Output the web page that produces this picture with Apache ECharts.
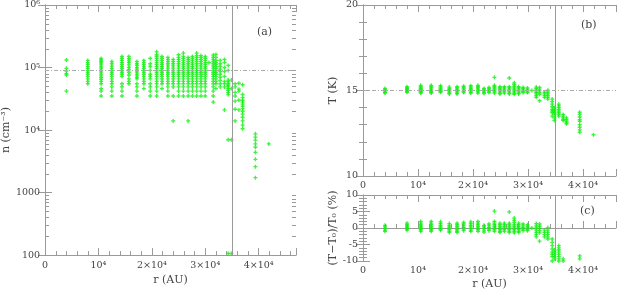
<!DOCTYPE html>
<html><head><meta charset="utf-8">
<script src="https://cdn.jsdelivr.net/npm/echarts@6/dist/echarts.min.js"></script>
<style>html,body{margin:0;padding:0;background:#fff}#c{width:622px;height:291px}</style>
</head><body><div id="c"></div>
<script>
// ---- Panel (a): density n (cm^-3) vs r (AU), columns of points ----
const rA = [4000, 8000, 10500, 12500, 14400, 15700, 17200, 18500, 19700, 20900, 21900, 23000, 24000, 25000, 25900, 26800, 27600, 28400, 29200, 30000, 30700, 31500, 32000, 32800, 33600, 34300, 34900, 35600, 36300, 37000, 39400, 41900];
const nA = [
  [1.32e5, 9.7e4, 8.8e4, 8.0e4, 7.6e4, 4.2e4],
  [1.3e5, 1.2e5, 1.12e5, 1.04e5, 9.7e4, 9.0e4, 8.4e4, 7.8e4, 7.2e4, 6.6e4, 6.0e4, 5.5e4],
  [1.4e5, 1.32e5, 1.25e5, 1.18e5, 1.1e5, 1.02e5, 9.5e4, 8.8e4, 8.2e4, 7.6e4, 7.0e4, 6.5e4, 6.0e4, 5.5e4, 4.6e4, 4.2e4, 3.5e4],
  [1.25e5, 1.15e5, 1.05e5, 9.7e4, 9.0e4, 8.4e4, 7.8e4, 7.2e4, 6.6e4, 6.0e4, 5.5e4, 4.9e4, 4.2e4, 3.5e4],
  [1.5e5, 1.4e5, 1.3e5, 1.2e5, 1.12e5, 1.04e5, 9.7e4, 9.0e4, 8.4e4, 7.8e4, 7.2e4, 5.5e4, 4.9e4, 4.2e4, 3.5e4],
  [1.5e5, 1.38e5, 1.28e5, 1.2e5, 1.1e5, 1.0e5, 9.2e4, 8.4e4, 7.6e4, 6.6e4, 6.0e4, 5.5e4],
  [1.25e5, 1.15e5, 1.08e5, 1.0e5, 9.4e4, 8.8e4, 8.2e4, 7.6e4, 7.0e4, 6.6e4, 5.5e4, 4.9e4, 4.2e4, 3.5e4],
  [1.3e5, 1.2e5, 1.12e5, 1.04e5, 9.7e4, 9.0e4, 8.4e4, 7.8e4, 7.2e4, 6.6e4, 6.0e4, 5.5e4, 4.6e4],
  [1.4e5, 1.15e5, 1.04e5, 9.0e4, 7.8e4, 7.2e4, 6.6e4, 5.5e4, 4.9e4, 4.2e4, 3.5e4],
  [1.78e5, 1.6e5, 1.5e5, 1.4e5, 1.3e5, 1.2e5, 1.12e5, 1.04e5, 9.7e4, 9.0e4, 8.4e4, 7.8e4, 7.2e4, 6.6e4, 6.0e4, 5.5e4, 4.9e4, 4.2e4, 3.5e4],
  [1.5e5, 1.4e5, 1.3e5, 1.2e5, 1.12e5, 1.04e5, 9.7e4, 9.0e4, 8.4e4, 7.8e4, 7.2e4, 6.6e4, 6.0e4, 5.5e4, 4.6e4],
  [1.45e5, 1.35e5, 1.25e5, 1.15e5, 1.06e5, 9.8e4, 9.0e4, 8.4e4, 7.8e4, 7.2e4, 6.6e4, 6.0e4, 5.5e4, 4.9e4, 4.2e4, 3.5e4],
  [1.35e5, 1.25e5, 1.15e5, 1.06e5, 9.8e4, 9.0e4, 8.4e4, 7.8e4, 7.2e4, 6.6e4, 6.0e4, 5.5e4, 4.9e4, 3.5e4, 1.4e4],
  [1.6e5, 1.45e5, 1.35e5, 1.25e5, 1.15e5, 1.06e5, 9.8e4, 9.0e4, 8.4e4, 7.8e4, 7.2e4, 6.6e4, 6.0e4, 5.5e4, 4.9e4, 4.2e4, 3.5e4],
  [1.7e5, 1.5e5, 1.4e5, 1.3e5, 1.2e5, 1.12e5, 1.04e5, 9.7e4, 9.0e4, 8.4e4, 7.8e4, 7.2e4, 6.6e4, 6.0e4, 5.5e4, 4.9e4, 4.2e4, 3.5e4],
  [1.45e5, 1.35e5, 1.25e5, 1.15e5, 1.06e5, 9.8e4, 9.0e4, 8.4e4, 7.8e4, 7.2e4, 6.6e4, 6.0e4, 5.5e4, 4.9e4, 4.2e4, 3.5e4, 1.4e4],
  [1.5e5, 1.4e5, 1.3e5, 1.2e5, 1.12e5, 1.04e5, 9.7e4, 9.0e4, 8.4e4, 7.8e4, 7.2e4, 6.6e4, 6.0e4, 5.5e4, 4.9e4, 4.2e4, 3.5e4],
  [1.7e5, 1.55e5, 1.45e5, 1.35e5, 1.25e5, 1.15e5, 1.06e5, 9.8e4, 9.0e4, 8.4e4, 7.8e4, 7.2e4, 6.6e4, 6.0e4, 5.5e4, 4.9e4, 4.2e4, 3.5e4],
  [1.55e5, 1.45e5, 1.35e5, 1.25e5, 1.15e5, 1.06e5, 9.8e4, 9.0e4, 8.4e4, 7.8e4, 7.2e4, 6.6e4, 6.0e4, 5.5e4, 4.9e4, 4.2e4, 3.5e4],
  [1.5e5, 1.4e5, 1.3e5, 1.2e5, 1.12e5, 1.04e5, 9.7e4, 9.0e4, 8.4e4, 7.8e4, 7.2e4, 6.6e4, 6.0e4, 5.5e4, 4.9e4, 4.2e4, 3.5e4],
  [1.2e5],
  [1.58e5, 1.45e5, 1.35e5, 1.25e5, 1.15e5, 1.06e5, 9.8e4, 9.0e4, 8.4e4, 7.8e4, 7.2e4, 6.6e4, 6.0e4, 5.5e4, 4.9e4, 4.2e4, 3.5e4, 2.8e4],
  [1.62e5, 1.45e5, 1.3e5, 1.2e5, 1.12e5, 1.04e5, 9.7e4, 9.0e4, 8.4e4, 7.8e4, 7.2e4, 6.6e4, 6.0e4, 5.5e4, 4.6e4],
  [1.3e5, 1.15e5, 1.04e5, 9.4e4, 8.6e4, 7.8e4, 7.0e4, 6.2e4, 5.5e4, 4.9e4],
  [1.35e5, 1.2e5, 1.0e5, 8.6e4, 7.2e4, 6.0e4, 5.5e4, 4.9e4, 2.1e4],
  [1.08e5, 9.0e4, 6.3e4, 5.9e4, 5.5e4, 5.2e4, 4.9e4, 4.6e4, 4.3e4, 4.0e4, 3.7e4, 7.0e3, 106],
  [6.3e4, 4.6e4, 7.0e3, 106],
  [5.5e4, 4.9e4, 4.0e4, 3.5e4, 2.9e4, 2.15e4, 1.4e4],
  [5.6e4, 4.5e4, 4.2e4, 3.0e4, 2.1e4],
  [5.3e4, 3.7e4, 3.3e4, 3.0e4, 2.8e4, 2.6e4, 2.4e4, 2.2e4, 2.0e4, 1.8e4, 1.6e4, 1.4e4, 1.2e4, 1.05e4],
  [8.7e3, 7.7e3, 6.9e3, 6.0e3, 5.3e3, 4.4e3, 3.4e3, 2.6e3, 1.73e3],
  [6.0e3]
];
// ---- Panel (b): temperature T (K) vs r (AU) ----
const rB = [4000, 8000, 10500, 12400, 14100, 15700, 17100, 18300, 19600, 20900, 22000, 22900, 23900, 24900, 25700, 26600, 27500, 28300, 29100, 29900, 30700, 31500, 32100, 33000, 33600, 34400, 34800, 35600, 36400, 37000, 39400, 41900];
const tB = [
  [15.12, 15.05, 14.98, 14.9, 14.85],
  [15.22, 15.15, 15.1, 15.05, 15.0, 14.95, 14.9],
  [15.3, 15.22, 15.15, 15.1, 15.05, 15.0, 14.95, 14.9, 14.85],
  [15.3, 15.22, 15.15, 15.08, 15.0, 14.95, 14.9, 14.85],
  [15.28, 15.2, 15.12, 15.05, 15.0, 14.95, 14.9],
  [15.2, 15.12, 15.05, 15.0, 14.92, 14.85, 14.8],
  [15.22, 15.15, 15.08, 15.0, 14.92, 14.85, 14.8],
  [15.25, 15.18, 15.1, 15.02, 14.95, 14.88],
  [15.28, 15.2, 15.12, 15.05, 14.98, 14.9, 14.85],
  [15.3, 15.22, 15.15, 15.08, 15.0, 14.92, 14.85],
  [15.12, 15.05, 14.98, 14.9, 14.82],
  [15.18, 15.1, 15.02, 14.95, 14.88],
  [15.77, 15.3, 15.22, 15.15, 15.08, 15.0, 14.92, 14.85],
  [15.22, 15.15, 15.08, 15.0, 14.92, 14.85, 14.8],
  [15.22, 15.15, 15.08, 15.0, 14.92, 14.85],
  [15.73, 15.22, 15.15, 15.08, 15.0, 14.92, 14.85, 14.8],
  [15.45, 15.35, 15.25, 15.15, 15.08, 15.0, 14.92, 14.85, 14.78],
  [15.22, 15.15, 15.08, 15.0, 14.92, 14.85, 14.8],
  [15.18, 15.1, 15.02, 14.95, 14.88],
  [15.15, 15.08, 15.0, 14.92, 14.88],
  [15.0],
  [15.2, 15.1, 15.0, 14.9, 14.8, 14.7, 14.6],
  [15.18, 15.08, 14.98, 14.88, 14.78, 14.4],
  [14.9, 14.8, 14.7, 14.6],
  [15.02, 14.9, 14.8, 14.7, 14.6, 14.5],
  [14.5, 14.35, 14.2, 14.05, 13.9, 13.8, 13.7, 13.5],
  [14.0, 13.9, 13.8, 13.7, 13.6, 13.4, 13.25],
  [14.2, 14.1, 14.0, 13.9, 13.8, 13.7, 13.6, 13.5],
  [13.6, 13.5, 13.4, 13.3, 13.25],
  [13.4, 13.3, 13.2, 13.1, 13.05],
  [13.73, 13.6, 13.45, 13.3, 13.2, 13.0, 12.85, 12.7, 12.56],
  [12.41]
];
const T0 = 15;            // reference temperature (K)
const nRef = 8.9e4;       // dotted reference density
const rEdge = 35000;      // vertical line position (AU)
const logMinor = [200,300,400,500,600,700,800,900, 2000,3000,4000,5000,6000,7000,8000,9000,
  20000,30000,40000,50000,60000,70000,80000,90000, 200000,300000,400000,500000,600000,700000,800000,900000];

// ---- build ----
const FONT = 'DejaVu Serif';
const TXT = '#444';
const AX = '#9a9a9a';
const GREEN = '#10f010';
const SYM = 'path://M1,0H2V1H3V2H2V3H1V2H0V1H1Z';

const dataA = rA.flatMap((r, i) => nA[i].map(v => [r, v]));
const dataB = rB.flatMap((r, i) => tB[i].map(t => [r, t]));
const dataC = rB.flatMap((r, i) => tB[i].map(t => [r, (t - T0) / T0 * 100]));

function xFmt(v) {
  if (v === 0) return '0';
  if (v % 10000 !== 0) return '';
  const k = v / 10000;
  return k === 1 ? '10\u2074' : k + '\u00d710\u2074';
}
function logFmt(v) {
  const m = { 100: '100', 1000: '1000', 10000: '10\u2074', 100000: '10\u2075', 1000000: '10\u2076' };
  return m[Math.round(v)] || '';
}

const grids = [
  { left: 37, top: 4, width: 259, height: 258 },
  { left: 363, top: 4, width: 253, height: 172 },
  { left: 363, top: 195, width: 253, height: 67 }
];
const xMax = [47000, 46000, 46000];
const xName = ['r (AU)', '', 'r (AU)'];

const lblStyle = { color: TXT, fontFamily: FONT, fontSize: 9.5, margin: 5 };
const nameStyle = { color: TXT, fontFamily: FONT, fontSize: 11 };

const xAxes = [];
grids.forEach((g, gi) => {
  xAxes.push({
    type: 'value', gridIndex: gi, position: 'bottom', min: 0, max: xMax[gi], interval: 10000,
    axisLine: { show: true, lineStyle: { color: AX } },
    axisTick: { show: true, inside: true, length: 7, lineStyle: { color: AX } },
    axisLabel: Object.assign({ formatter: xFmt }, lblStyle),
    splitLine: { show: false },
    name: xName[gi], nameLocation: 'middle', nameGap: 18, nameTextStyle: nameStyle
  });
  xAxes.push({
    type: 'value', gridIndex: gi, position: 'bottom', min: 0, max: xMax[gi], interval: 2000,
    axisLine: { show: false }, axisLabel: { show: false }, splitLine: { show: false },
    axisTick: { show: true, inside: true, length: 4, lineStyle: { color: AX } }
  });
  xAxes.push({
    type: 'value', gridIndex: gi, position: 'top', min: 0, max: xMax[gi], interval: 10000,
    axisLine: { show: true, lineStyle: { color: AX } }, axisLabel: { show: false }, splitLine: { show: false },
    axisTick: { show: true, inside: true, length: 7, lineStyle: { color: AX } }
  });
  xAxes.push({
    type: 'value', gridIndex: gi, position: 'top', min: 0, max: xMax[gi], interval: 2000,
    axisLine: { show: false }, axisLabel: { show: false }, splitLine: { show: false },
    axisTick: { show: true, inside: true, length: 4, lineStyle: { color: AX } }
  });
});

const yBase = (gi, pos, extra) => Object.assign({
  gridIndex: gi, position: pos,
  axisLine: { show: true, lineStyle: { color: AX } },
  axisTick: { show: true, inside: true, length: 7, lineStyle: { color: AX } },
  splitLine: { show: false }, minorSplitLine: { show: false }
}, extra);
const minorT = { show: true, splitNumber: 5, length: 4, lineStyle: { color: AX } };

const yAxes = [
  yBase(0, 'left', { type: 'log', logBase: 10, min: 100, max: 1e6,
    axisLabel: Object.assign({ formatter: logFmt }, lblStyle),
    name: 'n (cm\u207b\u00b3)', nameLocation: 'middle', nameGap: 24, nameTextStyle: nameStyle }),
  yBase(0, 'right', { type: 'log', logBase: 10, min: 100, max: 1e6, axisLabel: { show: false } }),
  yBase(1, 'left', { type: 'value', min: 10, max: 20, interval: 5, minorTick: minorT,
    axisLabel: lblStyle,
    name: 'T (K)', nameLocation: 'middle', nameGap: 24, nameTextStyle: nameStyle }),
  yBase(1, 'right', { type: 'value', min: 10, max: 20, interval: 5, axisLabel: { show: false }, minorTick: minorT }),
  yBase(2, 'left', { type: 'value', min: -10, max: 10, interval: 5, minorTick: minorT,
    axisLabel: lblStyle,
    name: '(T\u2212T\u2080)/T\u2080 (%)', nameLocation: 'middle', nameGap: 24, nameTextStyle: nameStyle }),
  yBase(2, 'right', { type: 'value', min: -10, max: 10, interval: 5, axisLabel: { show: false }, minorTick: minorT })
];

const vline = { xAxis: rEdge, lineStyle: { type: 'solid', color: AX, width: 1 } };
const mkLine = (lines) => ({ silent: true, symbol: 'none', label: { show: false }, animation: false, data: lines });
const dotted = { type: [4, 2, 1, 2], color: '#aaa', width: 1 };

const series = [
  { type: 'scatter', xAxisIndex: 0, yAxisIndex: 0, data: dataA, symbol: SYM, symbolSize: 4,
    itemStyle: { color: GREEN }, clip: true,
    markLine: mkLine([{ yAxis: nRef, lineStyle: dotted }, vline]) },
  { type: 'scatter', xAxisIndex: 4, yAxisIndex: 2, data: dataB, symbol: SYM, symbolSize: 4,
    itemStyle: { color: GREEN }, clip: true,
    markLine: mkLine([{ yAxis: T0, lineStyle: dotted }, vline]) },
  { type: 'scatter', xAxisIndex: 8, yAxisIndex: 4, data: dataC, symbol: SYM, symbolSize: 4,
    itemStyle: { color: GREEN }, clip: true,
    markLine: mkLine([vline]) },
  { type: 'custom', xAxisIndex: 0, yAxisIndex: 0, silent: true, clip: false,
    data: logMinor.map(v => [0, v]),
    renderItem: function (params, api) {
      const y = Math.round(api.coord([0, api.value(1)])[1]) + 0.5;
      const cs = params.coordSys;
      return { type: 'group', children: [
        { type: 'line', shape: { x1: cs.x, y1: y, x2: cs.x + 4, y2: y }, style: { stroke: AX, lineWidth: 1 } },
        { type: 'line', shape: { x1: cs.x + cs.width - 4, y1: y, x2: cs.x + cs.width, y2: y }, style: { stroke: AX, lineWidth: 1 } }
      ] };
    } }
];

const chart = echarts.init(document.getElementById('c'), null, { renderer: 'canvas' });
chart.setOption({
  animation: false,
  backgroundColor: '#fff',
  grid: grids,
  xAxis: xAxes,
  yAxis: yAxes,
  series: series,
  graphic: [
    { type: 'text', left: 257, top: 27, style: { text: '(a)', font: '11px "DejaVu Serif"', fill: TXT } },
    { type: 'text', left: 581, top: 20, style: { text: '(b)', font: '11px "DejaVu Serif"', fill: TXT } },
    { type: 'text', left: 580, top: 206, style: { text: '(c)', font: '11px "DejaVu Serif"', fill: TXT } }
  ]
});
</script>
</body></html>
